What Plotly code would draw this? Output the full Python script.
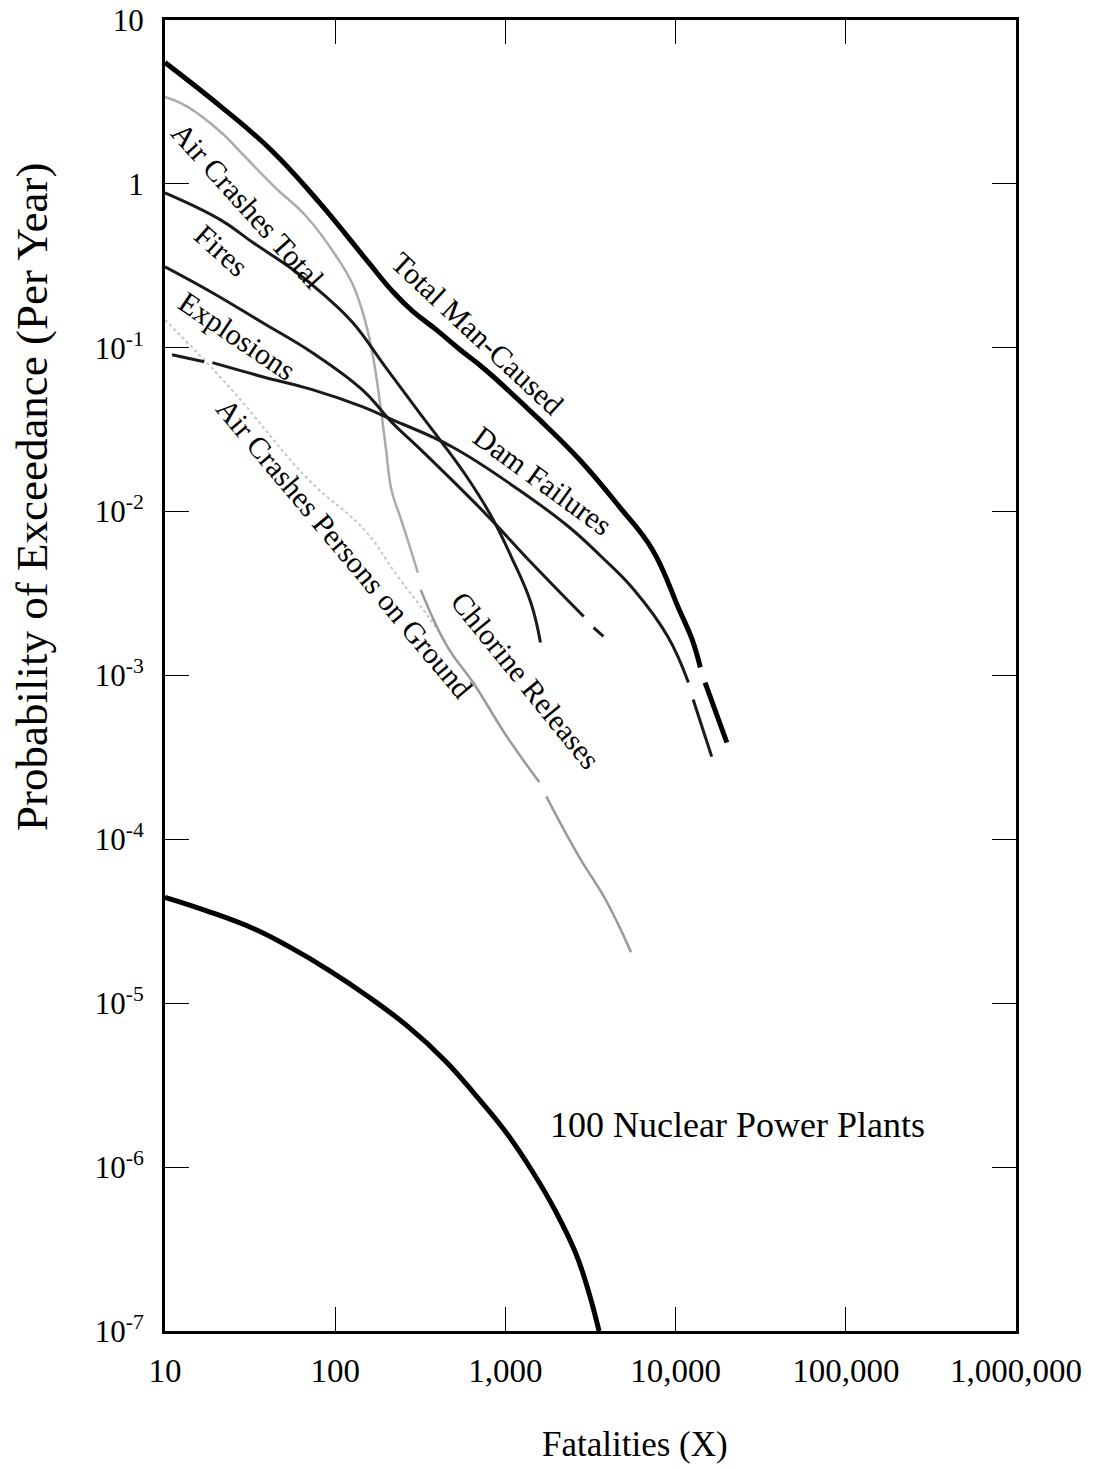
import plotly.graph_objects as go

# ---- data ----
total_x = [10, 21.4, 42, 82, 156, 219, 287, 392, 542, 762, 1585, 2720, 4680, 7310, 10500, 12500, 13970, None, 14900, 20000]
total_y = [5.5, 2.95, 1.61, 0.755, 0.334, 0.219, 0.166, 0.129, 0.0973, 0.0734, 0.0364, 0.0208, 0.0107, 0.00586, 0.00252, 0.00166, 0.00112, None, 0.000906, 0.00039]

air_total_x = [10, 13.6, 21.5, 28.1, 44, 67.9, 101, 127, 151, 168, 184, 199, 214, 244, 272, 306]
air_total_y = [3.39, 2.95, 2.05, 1.545, 0.959, 0.63, 0.364, 0.242, 0.142, 0.0845, 0.0449, 0.0239, 0.0136, 0.00893, 0.00629, 0.00425]

ground_x = [10, 23.8, 69.7, 148, 233, 363, 456]
ground_y = [0.148, 0.0578, 0.01567, 0.00776, 0.00402, 0.00219, 0.00155]

chlorine_x = [318, 456, 646, 1018, 1585, None, 1738, 2700, 3873, 5470]
chlorine_y = [0.00334, 0.0015, 0.000906, 0.000425, 0.000223, None, 0.000183, 0.0000787, 0.000043, 0.0000205]

fires_x = [10, 21.2, 33, 56.6, 88.3, 127, 197, 312, 424, 608, 828, 1081, 1410, 1607]
fires_y = [0.881, 0.603, 0.437, 0.299, 0.205, 0.142, 0.0765, 0.0402, 0.0264, 0.0157, 0.00933, 0.00532, 0.00279, 0.00159]

explosions_x = [10, 19.1, 37.5, 73.4, 144, 216, 310, 753, 1416, 2884, None, 3296, 3767]
explosions_y = [0.312, 0.216, 0.142, 0.0933, 0.0555, 0.0349, 0.0245, 0.00986, 0.00489, 0.00229, None, 0.00196, 0.00173]

dam_x = [11, 17, None, 19, 37.4, 73.3, 144, 216, 485, 1197, 2344, 3656, 5690, 8995, 11890, None, 12680, 16300]
dam_y = [0.0906, 0.0822, None, 0.0811, 0.0666, 0.0555, 0.0437, 0.0364, 0.0249, 0.0136, 0.00811, 0.00532, 0.00334, 0.00173, 0.000906, None, 0.000714, 0.00032]

nuclear_x = [10, 17.9, 33.8, 52.9, 91, 156, 268, 444, 666, 1000, 1442, 1968, 2583, 3078, 3550]
nuclear_y = [4.43e-5, 3.64e-5, 2.83e-5, 2.23e-5, 1.60e-5, 1.10e-5, 7.2e-6, 4.45e-6, 2.76e-6, 1.65e-6, 9.4e-7, 5.4e-7, 3.0e-7, 1.75e-7, 1.0e-7]

x_tickvals = [10, 100, 1000, 10000, 100000, 1000000]
x_ticktext = ["10", "100", "1,000", "10,000", "100,000", "1,000,000"]
y_tickvals = [10, 1, 0.1, 0.01, 0.001, 1e-4, 1e-5, 1e-6, 1e-7]
y_ticktext = ["10", "1", "10<sup>-1</sup>", "10<sup>-2</sup>", "10<sup>-3</sup>",
              "10<sup>-4</sup>", "10<sup>-5</sup>", "10<sup>-6</sup>", "10<sup>-7</sup>"]

FONT = "Liberation Serif"

fig = go.Figure()

def add(x, y, color, width, dash="solid"):
    fig.add_trace(go.Scatter(x=x, y=y, mode="lines", connectgaps=False,
                             line=dict(color=color, width=width, dash=dash, shape="spline", smoothing=1.2),
                             showlegend=False, hoverinfo="skip"))

add(ground_x, ground_y, "#c4c4c4", 2, "dot")
add(air_total_x, air_total_y, "#ababab", 2.5)
add(chlorine_x, chlorine_y, "#9a9a9a", 2.5)
add(fires_x, fires_y, "#1a1a1a", 3)
add(explosions_x, explosions_y, "#1a1a1a", 3)
add(dam_x, dam_y, "#1a1a1a", 3)
add(total_x, total_y, "#000000", 5)
add(nuclear_x, nuclear_y, "#000000", 5)

# figure fills the whole page (body margin removed below)
W, H = 1119, 1469
L, R, T, B = 165, 1016, 20, 1331

def px(x):
    return (x - L) / (R - L)

def py(y):
    return (B - y) / (B - T)

labels = [
    ("Air Crashes Total", 248, 205, 48, 30),
    ("Fires", 222, 250, 42, 30),
    ("Explosions", 237, 335, 34, 30),
    ("Air Crashes Persons on Ground", 345, 548, 50, 30),
    ("Total Man-Caused", 478, 333, 43, 30),
    ("Dam Failures", 543, 480, 36, 30),
    ("Chlorine Releases", 525, 680, 51, 30),
    ("100 Nuclear Power Plants", 737, 1125, 0, 36),
]
for text, cx, cy, ang, fs in labels:
    fig.add_annotation(text=text, x=px(cx), y=py(cy), xref="paper", yref="paper",
                       showarrow=False, textangle=ang,
                       font=dict(family=FONT, size=fs, color="black"),
                       xanchor="center", yanchor="middle")

fig.add_annotation(text="Probability of Exceedance (Per Year)", x=px(32), y=py(497),
                   xref="paper", yref="paper", showarrow=False, textangle=-90,
                   font=dict(family=FONT, size=45, color="black"),
                   xanchor="center", yanchor="middle")
fig.add_annotation(text="Fatalities (X)", x=px(635), y=py(1444),
                   xref="paper", yref="paper", showarrow=False,
                   font=dict(family=FONT, size=35, color="black"),
                   xanchor="center", yanchor="middle")

axis_common = dict(showgrid=False, zeroline=False, showline=True, linecolor="black",
                   linewidth=3, mirror="ticks", ticks="inside", ticklen=24,
                   tickwidth=1, tickcolor="black", ticklabeloverflow="allow")

fig.update_xaxes(type="log", range=[1, 6], tickvals=x_tickvals, ticktext=x_ticktext,
                 ticklabelstandoff=8, tickfont=dict(family=FONT, size=33, color="black"),
                 **axis_common)
fig.update_yaxes(type="log", range=[-7, 1], tickvals=y_tickvals, ticktext=y_ticktext,
                 ticklabelstandoff=12, tickfont=dict(family=FONT, size=31, color="black"),
                 **axis_common)

fig.update_layout(width=W, height=H, paper_bgcolor="white", plot_bgcolor="white",
                  margin=dict(l=L, r=W - R, t=T, b=H - B, autoexpand=False),
                  font=dict(family=FONT, color="black"))

fig.write_html("out.html", config={"displayModeBar": False, "staticPlot": True},
               post_script="document.body.style.margin='0';document.body.style.overflow='hidden';")
